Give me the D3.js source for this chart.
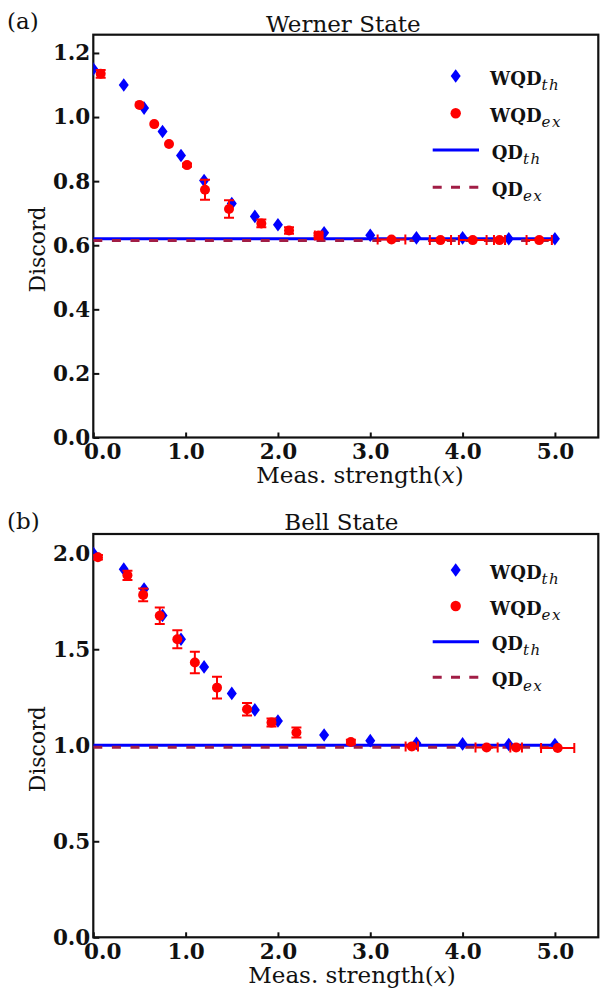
<!DOCTYPE html>
<html><head><meta charset="utf-8">
<script src="https://cdn.jsdelivr.net/npm/d3@7"></script>
<style>body{margin:0;background:#fff} svg{display:block}</style>
</head><body><svg id="c" width="600" height="990"></svg>
<script>
// ---------- data ----------
const xTickValues = [0, 1, 2, 3, 4, 5];
const xTickLabels = ["0.0", "1.0", "2.0", "3.0", "4.0", "5.0"];
const wernerYTicks = [0, 0.2, 0.4, 0.6, 0.8, 1.0, 1.2];
const wernerYTickLabels = ["0.0", "0.2", "0.4", "0.6", "0.8", "1.0", "1.2"];
const bellYTicks = [0, 0.5, 1.0, 1.5, 2.0];
const bellYTickLabels = ["0.0", "0.5", "1.0", "1.5", "2.0"];

const wqdThX = [0, 0.33, 0.55, 0.75, 0.95, 1.2, 1.5, 1.75, 2.0, 2.5, 3.0, 3.5, 4.0, 4.5, 5.0];
const wernerWqdTh = [1.150, 1.100, 1.028, 0.955, 0.880, 0.802, 0.730, 0.690, 0.664, 0.639, 0.631, 0.623, 0.623, 0.620, 0.620];
const wernerWqdExX = [0.08, 0.50, 0.66, 0.82, 1.015, 1.21, 1.47, 1.82, 2.12, 2.44, 3.23, 3.76, 4.11, 4.40, 4.83];
const wernerWqdEx = [1.135, 1.038, 0.978, 0.916, 0.850, 0.773, 0.713, 0.668, 0.646, 0.630, 0.618, 0.616, 0.616, 0.616, 0.616];
const wernerWqdExYErr = [0.012, 0, 0, 0, 0.005, 0.031, 0.027, 0.012, 0.010, 0.008, 0, 0, 0, 0, 0];
const wernerWqdExXErr = [0, 0, 0, 0, 0, 0, 0, 0, 0, 0.04, 0.15, 0.115, 0.15, 0.06, 0.137];
const wernerQdTh = 0.620;
const wernerQdEx = 0.615;

const bellWqdTh = [2.0, 1.917, 1.813, 1.676, 1.552, 1.408, 1.27, 1.184, 1.126, 1.053, 1.024, 1.01, 1.007, 1.004, 1.004];
const bellWqdExX = [0.05, 0.37, 0.54, 0.72, 0.91, 1.10, 1.34, 1.665, 1.93, 2.20, 2.79, 3.45, 4.26, 4.58, 5.03];
const bellWqdEx = [1.979, 1.885, 1.783, 1.674, 1.552, 1.431, 1.30, 1.1875, 1.118, 1.066, 1.017, 0.994, 0.988, 0.988, 0.986];
const bellWqdExYErr = [0.012, 0.024, 0.033, 0.043, 0.047, 0.056, 0.057, 0.032, 0.021, 0.026, 0.012, 0, 0, 0, 0];
const bellWqdExXErr = [0, 0, 0, 0, 0, 0, 0, 0, 0, 0, 0, 0.067, 0.12, 0.063, 0.18];
const bellQdTh = 1.0;
const bellQdEx = 0.99;

const legendLabels = [["WQD", "th"], ["WQD", "ex"], ["QD", "th"], ["QD", "ex"]];

// ---------- drawing ----------
const svg = d3.select("#c");
const BLUE = "#0000ff", RED = "#ff0000", DRED = "#a11d45", INK = "#111";
const SERIF = "'DejaVu Serif', serif";
const diamond = "M0,-6.8L5,0L0,6.8L-5,0Z";

function panel(cfg) {
  const x = d3.scaleLinear().domain([0, 5.47]).range([93.3, 598.3]);
  const y = d3.scaleLinear().domain([0, cfg.yMax]).range([cfg.bottom, cfg.top]);
  const g = svg.append("g");
  const clipId = "clip" + cfg.id;
  svg.append("defs").append("clipPath").attr("id", clipId)
    .append("rect").attr("x", x.range()[0]).attr("y", cfg.top)
    .attr("width", x.range()[1] - x.range()[0]).attr("height", cfg.bottom - cfg.top);

  // axes
  const xa = g.append("g").attr("transform", `translate(0,${cfg.bottom})`)
    .call(d3.axisBottom(x).tickValues(xTickValues).tickFormat((d, i) => xTickLabels[i])
      .tickSizeInner(-5).tickSizeOuter(0).tickPadding(6));
  const ya = g.append("g").attr("transform", `translate(${x.range()[0]},0)`)
    .call(d3.axisLeft(y).tickValues(cfg.yTicks).tickFormat((d, i) => cfg.yTickLabels[i])
      .tickSizeInner(-6).tickSizeOuter(0).tickPadding(3));
  [xa, ya].forEach(a => {
    a.select(".domain").remove();
    a.selectAll(".tick line").attr("stroke", INK).attr("stroke-width", 2);
    a.selectAll(".tick text").attr("fill", INK).style("font-family", SERIF)
      .style("font-weight", "bold").style("font-size", "21.5px");
  });
  xa.selectAll(".tick text").filter((d, i) => i === 0).attr("dx", 9);

  // frame
  g.append("rect").attr("x", x.range()[0]).attr("y", cfg.top)
    .attr("width", x.range()[1] - x.range()[0]).attr("height", cfg.bottom - cfg.top)
    .attr("fill", "none").attr("stroke", INK).attr("stroke-width", 2.2);

  const pg = g.append("g").attr("clip-path", `url(#${clipId})`);
  // QD lines
  pg.append("line").attr("x1", x(0)).attr("x2", x(5)).attr("y1", y(cfg.qdTh)).attr("y2", y(cfg.qdTh))
    .attr("stroke", BLUE).attr("stroke-width", 3);
  pg.append("line").attr("x1", x(0)).attr("x2", x(5)).attr("y1", y(cfg.qdEx)).attr("y2", y(cfg.qdEx))
    .attr("stroke", DRED).attr("stroke-width", 3).attr("stroke-dasharray", "9,9.6");

  // theory diamonds
  pg.selectAll(".dm").data(wqdThX.map((v, i) => [v, cfg.th[i]])).enter().append("path")
    .attr("d", diamond).attr("fill", BLUE)
    .attr("transform", d => `translate(${x(d[0])},${y(d[1])})`);

  // experimental points with error bars
  const ex = cfg.exX.map((v, i) => ({x: v, y: cfg.ex[i], ye: cfg.yErr[i], xe: cfg.xErr[i]}));
  const eb = pg.append("g").attr("stroke", RED).attr("stroke-width", 2).attr("fill", "none");
  const cap = 5;
  ex.forEach(d => {
    if (d.ye > 0) {
      eb.append("line").attr("x1", x(d.x)).attr("x2", x(d.x)).attr("y1", y(d.y - d.ye)).attr("y2", y(d.y + d.ye));
      [d.y - d.ye, d.y + d.ye].forEach(v => eb.append("line").attr("x1", x(d.x) - cap).attr("x2", x(d.x) + cap)
        .attr("y1", y(v)).attr("y2", y(v)));
    }
    if (d.xe > 0) {
      eb.append("line").attr("y1", y(d.y)).attr("y2", y(d.y)).attr("x1", x(d.x - d.xe)).attr("x2", x(d.x + d.xe));
      [d.x - d.xe, d.x + d.xe].forEach(v => eb.append("line").attr("y1", y(d.y) - cap).attr("y2", y(d.y) + cap)
        .attr("x1", x(v)).attr("x2", x(v)));
    }
  });
  pg.selectAll(".ci").data(ex).enter().append("circle")
    .attr("cx", d => x(d.x)).attr("cy", d => y(d.y)).attr("r", 5).attr("fill", RED);

  // texts
  svg.append("text").attr("x", 7).attr("y", cfg.tagY).text(cfg.tag)
    .style("font-family", SERIF).style("font-size", "23px").attr("fill", INK);
  svg.append("text").attr("x", cfg.titleX).attr("y", cfg.titleY).attr("text-anchor", "middle").text(cfg.title)
    .style("font-family", SERIF).style("font-size", "23px").attr("fill", INK);
  svg.append("text").attr("transform", `translate(45,${cfg.bottom - 188}) rotate(-90)`)
    .attr("text-anchor", "middle").text("Discord")
    .style("font-family", SERIF).style("font-size", "22px").attr("fill", INK);
  const xl = svg.append("text").attr("x", cfg.xLabelX).attr("y", cfg.bottom + 45.7).attr("text-anchor", "middle")
    .style("font-family", SERIF).style("font-size", "23px").attr("fill", INK);
  xl.append("tspan").text("Meas. strength(");
  xl.append("tspan").text("x").style("font-style", "italic");
  xl.append("tspan").text(")");

  // legend
  const lg = svg.append("g");
  const ly = cfg.legendY;
  lg.append("path").attr("d", diamond).attr("fill", BLUE).attr("transform", `translate(455.7,${ly[0]})`);
  lg.append("circle").attr("cx", 455.7).attr("cy", ly[1]).attr("r", 5.2).attr("fill", RED);
  lg.append("line").attr("x1", 432.7).attr("x2", 479).attr("y1", ly[2]).attr("y2", ly[2])
    .attr("stroke", BLUE).attr("stroke-width", 3);
  lg.append("line").attr("x1", 432.7).attr("x2", 479).attr("y1", ly[3]).attr("y2", ly[3])
    .attr("stroke", DRED).attr("stroke-width", 3).attr("stroke-dasharray", "9,9.3");
  legendLabels.forEach((lab, i) => {
    const t = lg.append("text").attr("x", i < 2 ? 490 : 491.7).attr("y", ly[i] + 8.5)
      .style("font-family", SERIF).attr("fill", INK);
    t.append("tspan").text(lab[0]).style("font-weight", "bold").style("font-size", "18px");
    t.append("tspan").text(lab[1]).attr("dy", 5).style("font-style", "italic")
      .style("font-size", "15px").style("letter-spacing", "1.5px");
  });
}

panel({
  id: "a", top: 34.7, bottom: 437.5, yMax: 1.257,
  yTicks: wernerYTicks, yTickLabels: wernerYTickLabels,
  th: wernerWqdTh, exX: wernerWqdExX, ex: wernerWqdEx, yErr: wernerWqdExYErr, xErr: wernerWqdExXErr,
  qdTh: wernerQdTh, qdEx: wernerQdEx,
  tag: "(a)", tagY: 29, title: "Werner State", titleX: 343.4, titleY: 31.7, xLabelX: 360,
  legendY: [76, 113.3, 150, 187.3]
});
panel({
  id: "b", top: 534, bottom: 937.3, yMax: 2.1,
  yTicks: bellYTicks, yTickLabels: bellYTickLabels,
  th: bellWqdTh, exX: bellWqdExX, ex: bellWqdEx, yErr: bellWqdExYErr, xErr: bellWqdExXErr,
  qdTh: bellQdTh, qdEx: bellQdEx,
  tag: "(b)", tagY: 529, title: "Bell State", titleX: 341.3, titleY: 530, xLabelX: 352,
  legendY: [570, 606, 641.7, 677.3]
});
</script></body></html>
